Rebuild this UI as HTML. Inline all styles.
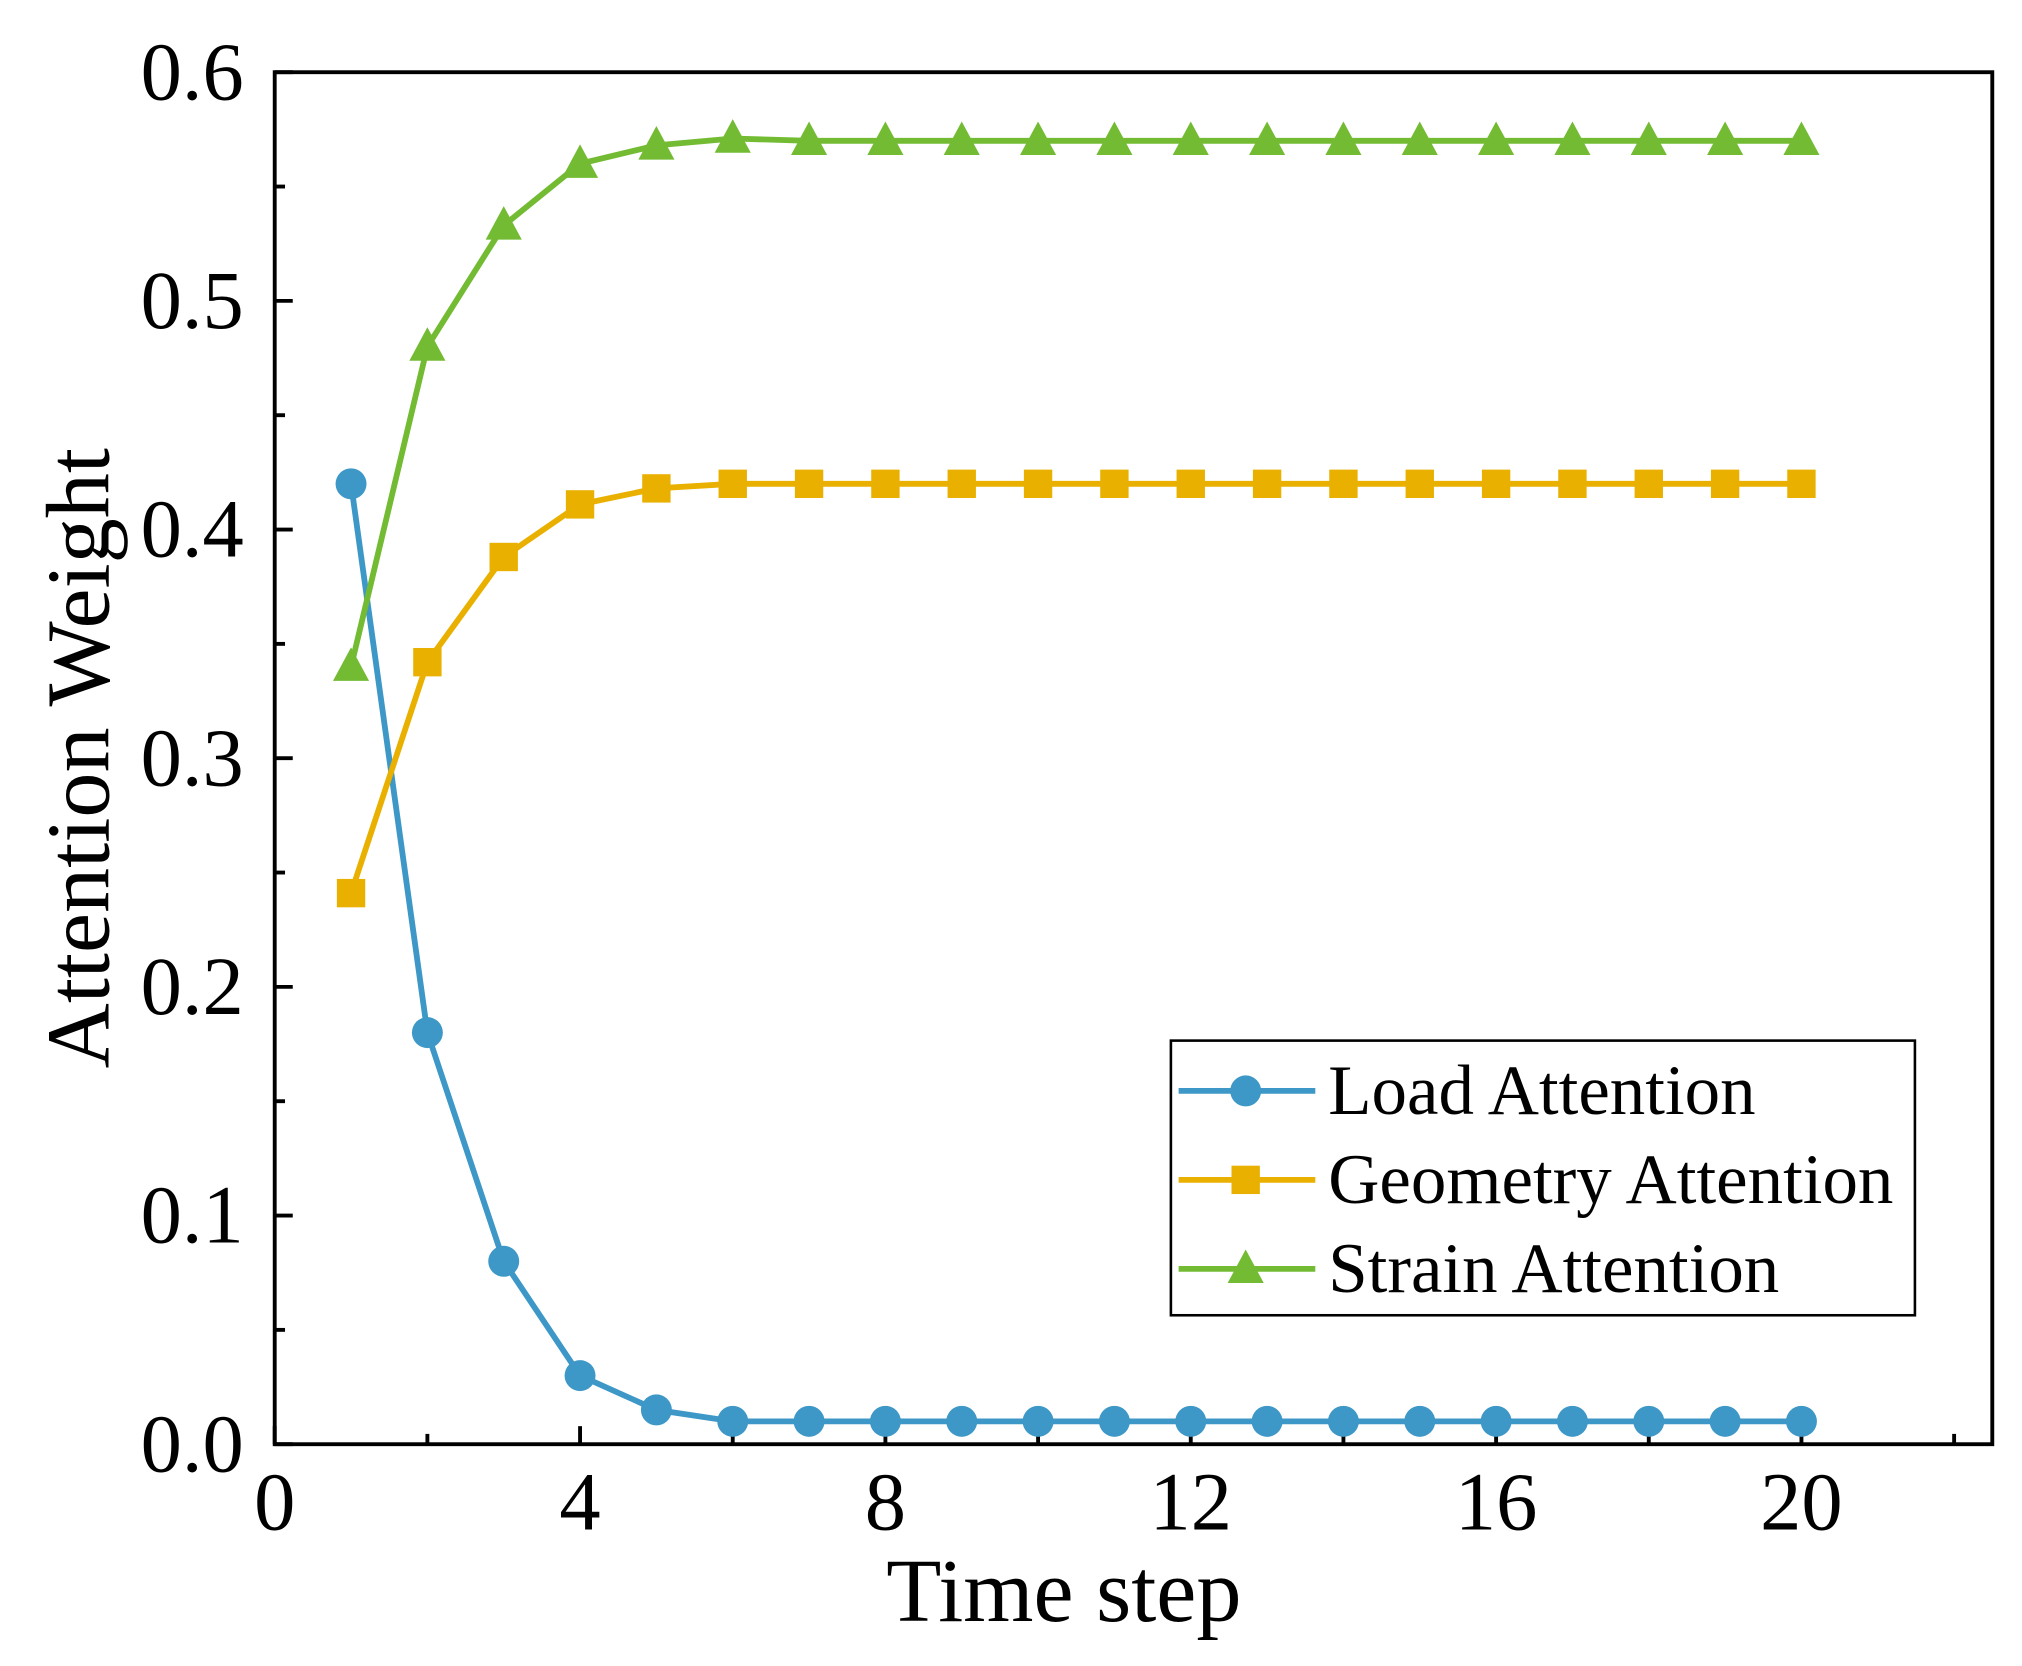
<!DOCTYPE html>
<html><head><meta charset="utf-8"><style>
html,body{margin:0;padding:0;background:#fff;}
svg{display:block;font-family:"Liberation Serif",serif;}
</style></head><body>
<svg id="chart" width="2022" height="1666" viewBox="0 0 1568 1292" xmlns="http://www.w3.org/2000/svg">
<g id="axes"></g><g id="series"></g><g id="legend"></g>
</svg>
<script>
const steps=[1,2,3,4,5,6,7,8,9,10,11,12,13,14,15,16,17,18,19,20];
const loadVals=[0.42,0.18,0.08,0.03,0.015,0.01,0.01,0.01,0.01,0.01,0.01,0.01,0.01,0.01,0.01,0.01,0.01,0.01,0.01,0.01];
const geomVals=[0.241,0.342,0.388,0.411,0.418,0.42,0.42,0.42,0.42,0.42,0.42,0.42,0.42,0.42,0.42,0.42,0.42,0.42,0.42,0.42];
const strainVals=[0.34,0.48,0.533,0.56,0.568,0.571,0.57,0.57,0.57,0.57,0.57,0.57,0.57,0.57,0.57,0.57,0.57,0.57,0.57,0.57];
const xTicks=[0,4,8,12,16,20];
const xMinor=[2,6,10,14,18,22];
const yTicks=["0.0","0.1","0.2","0.3","0.4","0.5","0.6"];
const yMinor=[0.05,0.15,0.25,0.35,0.45,0.55];
const seriesNames=["Load Attention","Geometry Attention","Strain Attention"];

const NS="http://www.w3.org/2000/svg";
const L=213,R=1545,T=56,B=1120;
const xs=v=>L+v*(1184/20);
const ys=v=>B-v*(B-T)/0.6;
function mk(tag,attrs,parent){const e=document.createElementNS(NS,tag);for(const k in attrs)e.setAttribute(k,attrs[k]);parent.appendChild(e);return e;}
const ax=document.getElementById('axes');
const frame=mk('rect',{x:L,y:T,width:R-L,height:B-T,fill:'none',stroke:'#000','stroke-width':3},ax);


xTicks.forEach(v=>{
  const t=mk('line',{x1:xs(v),x2:xs(v),y1:B,y2:B-14,stroke:'#000','stroke-width':3},ax);
  
  
  const tx=mk('text',{x:xs(v),y:B+66,'font-size':64,'text-anchor':'middle'},ax);tx.textContent=v;
  
  
});
xMinor.forEach(v=>{
  const t=mk('line',{x1:xs(v),x2:xs(v),y1:B,y2:B-8,stroke:'#000','stroke-width':3},ax);
  
  
});
yTicks.forEach(s=>{
  const v=parseFloat(s);
  const t=mk('line',{x1:L,x2:L+14,y1:ys(v),y2:ys(v),stroke:'#000','stroke-width':3},ax);
  
  
  const tx=mk('text',{x:L-24,y:ys(v)+21,'font-size':64,'text-anchor':'end'},ax);tx.textContent=s;
  
  
});
yMinor.forEach(v=>{
  const t=mk('line',{x1:L,x2:L+8,y1:ys(v),y2:ys(v),stroke:'#000','stroke-width':3},ax);
  
  
});
const xt=mk('text',{x:825,y:1257,'font-size':70,'text-anchor':'middle'},ax);xt.textContent='Time step';


const yt=mk('text',{x:0,y:0,'font-size':70,'text-anchor':'middle',transform:'translate(84,588) rotate(-90)'},ax);yt.textContent='Attention Weight';



function marker(type,x,y,color,parent){
  if(type==='c')return mk('circle',{cx:x,cy:y,r:12,fill:color},parent);
  if(type==='s')return mk('rect',{x:x-11,y:y-11,width:22,height:22,fill:color},parent);
  return mk('polygon',{points:`${x},${y-15} ${x-14},${y+11} ${x+14},${y+11}`,fill:color},parent);
}
const sg=document.getElementById('series');
const defs=[[loadVals,'#3d97c7','c','load'],[geomVals,'#e9b000','s','geometry'],[strainVals,'#72bb32','t','strain']];
defs.forEach(([vals,col,m,nm])=>{
  const g=mk('g',{},sg);
  
  
  const pl=mk('polyline',{points:vals.map((v,i)=>xs(steps[i])+','+ys(v)).join(' '),fill:'none',stroke:col,'stroke-width':4.5},g);
  
  
  vals.forEach((v,i)=>{const p=marker(m,xs(steps[i]),ys(v),col,g);
    
    });
});
const lg=document.getElementById('legend');
const lb=mk('rect',{x:908,y:807,width:577,height:213,fill:'#fff',stroke:'#000','stroke-width':2},lg);


defs.forEach(([vals,col,m,nm],i)=>{
  const y=846+i*69;
  const g=mk('g',{},lg);
  
  
  mk('line',{x1:914,x2:1020,y1:y,y2:y,stroke:col,'stroke-width':4.5},g);
  marker(m,966,y,col,g);
  const t=mk('text',{x:1030,y:y+18,'font-size':55},g);t.textContent=seriesNames[i];
});
</script>
</body></html>
